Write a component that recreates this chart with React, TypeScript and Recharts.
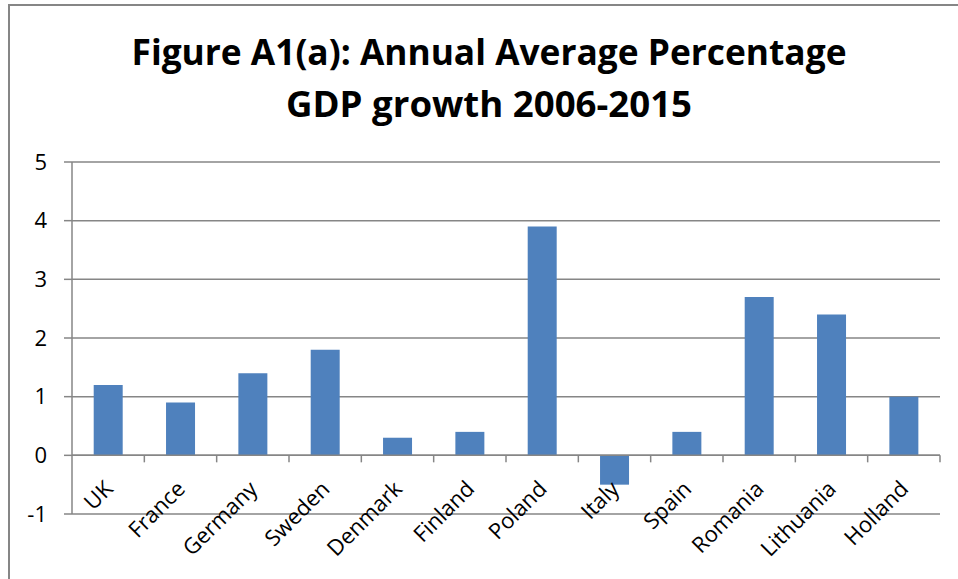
import React from 'react';
import { BarChart, Bar, XAxis, YAxis, CartesianGrid, ReferenceLine, ReferenceDot } from 'recharts';

const categories = ['UK', 'France', 'Germany', 'Sweden', 'Denmark', 'Finland', 'Poland', 'Italy', 'Spain', 'Romania', 'Lithuania', 'Holland'];
const growth = [1.2, 0.9, 1.4, 1.8, 0.3, 0.4, 3.9, -0.5, 0.4, 2.7, 2.4, 1.0];
const yTicks = [-1, 0, 1, 2, 3, 4, 5];
const titleLines = ['Figure A1(a): Annual Average Percentage', 'GDP growth 2006-2015'];

const data = categories.map((name, i) => ({ name, value: growth[i] }));

const W = 958;
const H = 579;
const MARGIN = { top: 162, right: 18, bottom: 65, left: 0 };
const Y_W = 72;
const AXIS = '#868686';
const FONT = '"Open Sans", "Liberation Sans", sans-serif';
const TICK_FS = 22;
const HALF_BAND = (W - MARGIN.left - MARGIN.right - Y_W) / categories.length / 2;

function catShape(name: string) {
  return (p: any) => {
    const cx = p.cx;
    const cy = p.cy;
    const ax = cx + 6;
    const ay = cy + 35;
    return (
      <g>
        <line x1={cx + HALF_BAND} x2={cx + HALF_BAND} y1={cy} y2={cy + 7} stroke={AXIS} strokeWidth={1.5} />
        <text
          x={ax}
          y={ay}
          transform={`rotate(-45, ${ax}, ${ay})`}
          textAnchor="end"
          fontFamily={FONT}
          fontSize={TICK_FS}
          fill="#000"
        >
          {name}
        </text>
      </g>
    );
  };
}

export default function App() {
  return (
    <div style={{ position: 'absolute', left: 0, top: 0, width: W, height: H, overflow: 'hidden', background: '#fff' }}>
      <div
        style={{
          position: 'absolute',
          left: 8,
          top: 4,
          width: W,
          height: H,
          borderLeft: `2px solid ${AXIS}`,
          borderTop: `2px solid ${AXIS}`,
        }}
      />
      <div style={{ position: 'absolute', left: 0, top: 0 }}>
        <BarChart width={W} height={H} data={data} margin={MARGIN} barCategoryGap="30%">
          <CartesianGrid vertical={false} stroke={AXIS} strokeWidth={1.5} />
          <XAxis dataKey="name" type="category" hide />
          <YAxis
            width={Y_W}
            domain={[-1, 5]}
            ticks={yTicks}
            interval={0}
            axisLine={{ stroke: AXIS, strokeWidth: 1.5 }}
            tickLine={{ stroke: AXIS, strokeWidth: 1.5 }}
            tickSize={8}
            tickMargin={17}
            tick={{ fill: '#000', fontSize: TICK_FS, fontFamily: FONT }}
          />
          <Bar dataKey="value" fill="#4F81BD" isAnimationActive={false} />
          <ReferenceLine y={0} stroke={AXIS} strokeWidth={1.5} />
          {categories.map((c) => (
            <ReferenceDot key={c} x={c} y={0} r={0} shape={catShape(c)} />
          ))}
        </BarChart>
      </div>
      <svg width={W} height={140} style={{ position: 'absolute', left: 0, top: 0 }}>
        <text x={489} y={64.5} textAnchor="middle" fontFamily={FONT} fontWeight="bold" fontSize={35} fill="#000" textLength={715} lengthAdjust="spacingAndGlyphs">
          {titleLines[0]}
        </text>
        <text x={489} y={116.5} textAnchor="middle" fontFamily={FONT} fontWeight="bold" fontSize={35} fill="#000" textLength={406} lengthAdjust="spacingAndGlyphs">
          {titleLines[1]}
        </text>
      </svg>
    </div>
  );
}
